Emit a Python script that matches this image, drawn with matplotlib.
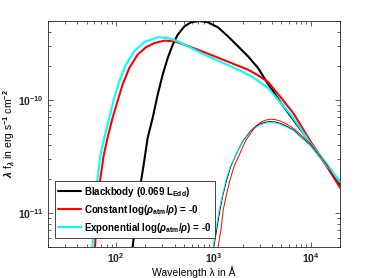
import matplotlib
matplotlib.use("Agg")
import matplotlib.pyplot as plt
from matplotlib.ticker import LogLocator, NullFormatter

plt.rcParams['font.family'] = ['Liberation Sans', 'DejaVu Sans']
plt.rcParams['font.weight'] = 'bold'
plt.rcParams['mathtext.fontset'] = 'custom'
plt.rcParams['mathtext.rm'] = 'Liberation Sans:bold'
plt.rcParams['mathtext.bf'] = 'Liberation Sans:bold'
plt.rcParams['mathtext.it'] = 'Liberation Sans:italic'

# ---- data ----
bb_wave = [142.8, 148.0, 160.8, 174.7, 192.1, 211.2, 237.8, 267.8, 301.5, 339.6, 382.3,
           430.5, 504.9, 590.4, 720.7, 877.7, 1113, 1411, 1789, 2269, 2876, 3502,
           4850, 6147, 7795, 9881, 14110, 20140]
bb_flux = [3.68e-12, 5.00e-12, 9.03e-12, 1.60e-11, 2.66e-11, 4.61e-11, 6.93e-11,
           1.114e-10, 1.674e-10, 2.353e-10, 3.085e-10, 3.785e-10, 4.49e-10, 4.87e-10,
           5.00e-10, 4.87e-10, 4.40e-10, 3.66e-10, 2.99e-10, 2.435e-10, 1.919e-10,
           1.464e-10, 9.66e-11, 7.29e-11, 5.54e-11, 4.25e-11, 2.77e-11, 1.77e-11]

const_wave = [59.6, 60.75, 66.5, 74.3, 81.7, 92.0, 103.6, 116.7, 136.8, 166.5, 202.9,
              247.6, 314.0, 398.1, 504.9, 692, 1029, 1526, 2269, 2876, 3646, 4850,
              6647, 9881, 14110, 20140]
const_flux = [3.68e-12, 5.0e-12, 1.597e-11, 3.15e-11, 4.61e-11, 6.93e-11, 9.74e-11,
              1.366e-10, 1.919e-10, 2.518e-10, 2.926e-10, 3.19e-10, 3.35e-10, 3.31e-10,
              3.085e-10, 2.787e-10, 2.435e-10, 2.125e-10, 1.853e-10, 1.654e-10,
              1.443e-10, 1.070e-10, 7.62e-11, 4.34e-11, 2.715e-11, 1.664e-11]

exp_wave = [56.2, 57.2, 62.5, 68.7, 75.6, 85.1, 95.8, 107.9, 126.2, 154.0, 195.3, 267.8,
            339.6, 430.5, 545.9, 748.4, 1113, 1654, 2453, 3646, 4850, 6147, 7795, 9881,
            14110, 20140]
exp_flux = [3.68e-12, 5.0e-12, 1.597e-11, 3.15e-11, 4.61e-11, 6.93e-11, 1.041e-10,
            1.464e-10, 2.053e-10, 2.70e-10, 3.26e-10, 3.59e-10, 3.54e-10, 3.31e-10,
            2.99e-10, 2.606e-10, 2.227e-10, 1.919e-10, 1.621e-10, 1.277e-10, 9.54e-11,
            7.52e-11, 5.65e-11, 4.16e-11, 2.83e-11, 1.880e-11]

# second set of thin curves
bb2_wave = [953.7, 1012, 1087, 1167, 1253, 1368, 1515, 1735, 2014, 2378, 2678, 3016,
            3396, 3823, 4305, 4850, 5589, 6647, 7982, 9881, 11950, 14690, 20140]
bb2_flux = [3.68e-12, 5.03e-12, 7.37e-12, 1.063e-11, 1.443e-11, 1.959e-11, 2.606e-11,
            3.375e-11, 4.34e-11, 5.24e-11, 5.77e-11, 6.13e-11, 6.35e-11, 6.43e-11,
            6.39e-11, 6.22e-11, 5.89e-11, 5.43e-11, 4.71e-11, 4.00e-11, 3.23e-11,
            2.57e-11, 1.734e-11]

const2_wave = [1061, 1121, 1203, 1262, 1361, 1480, 1638, 1876, 2138, 2476, 2775, 3140,
               3477, 3823, 4305, 4850, 5589, 6647, 7982, 9881, 11950, 14690, 20140]
const2_flux = [3.68e-12, 5.03e-12, 7.37e-12, 1.063e-11, 1.443e-11, 1.959e-11, 2.606e-11,
               3.375e-11, 4.34e-11, 5.24e-11, 5.95e-11, 6.43e-11, 6.65e-11, 6.75e-11,
               6.71e-11, 6.52e-11, 6.16e-11, 5.62e-11, 4.88e-11, 4.14e-11, 3.36e-11,
               2.66e-11, 1.688e-11]

exp2_wave = [942.4, 995, 1069, 1148, 1238, 1346, 1497, 1735, 2014, 2378, 2678, 3016,
             3396, 3823, 4305, 4850, 5589, 6647, 7982, 9881, 11950, 14690, 20140]
exp2_flux = [3.68e-12, 5.03e-12, 7.37e-12, 1.063e-11, 1.443e-11, 1.959e-11, 2.606e-11,
             3.375e-11, 4.29e-11, 5.14e-11, 5.65e-11, 6.01e-11, 6.22e-11, 6.30e-11,
             6.26e-11, 6.10e-11, 5.77e-11, 5.35e-11, 4.64e-11, 3.94e-11, 3.23e-11,
             2.57e-11, 1.832e-11]

labels = [r'Blackbody (0.069 L$_{\mathbf{Edd}}$)',
          r'Constant log($\rho_{\mathbf{atm}}/\rho$) = -0',
          r'Exponential log($\rho_{\mathbf{atm}}/\rho$) = -0']
colors = ['black', 'red', 'cyan']
x_ticks = [1e2, 1e3, 1e4]
x_ticklabels = [r'10$^{2}$', r'10$^{3}$', r'10$^{4}$']
y_ticks = [1e-11, 1e-10]
y_ticklabels = [r'10$^{-11}$', r'10$^{-10}$']

fig = plt.figure(figsize=(3.75, 2.78), dpi=100)
ax = fig.add_axes([48/375, 1-247/278, 292/375, 226/278])

kw = dict(solid_joinstyle='round', solid_capstyle='round')
ax.plot(bb_wave, bb_flux, color=colors[0], lw=1.5, label=labels[0], **kw)
ax.plot(const_wave, const_flux, color=colors[1], lw=1.5, label=labels[1], **kw)
ax.plot(exp_wave, exp_flux, color=colors[2], lw=1.5, label=labels[2], **kw)
ax.plot(bb2_wave, bb2_flux, color=colors[0], lw=0.7, **kw)
ax.plot(exp2_wave, exp2_flux, color=colors[2], lw=0.7, **kw)
ax.plot(const2_wave, const2_flux, color=colors[1], lw=0.7, **kw)

ax.set_xscale('log')
ax.set_yscale('log')
ax.set_xlim(20, 2e4)
ax.set_ylim(5e-12, 5e-10)

ax.set_xticks(x_ticks)
ax.set_xticklabels(x_ticklabels)
ax.set_yticks(y_ticks)
ax.set_yticklabels(y_ticklabels)
ax.xaxis.set_minor_locator(LogLocator(base=10, subs=range(2, 10), numticks=20))
ax.yaxis.set_minor_locator(LogLocator(base=10, subs=range(2, 10), numticks=20))
ax.xaxis.set_minor_formatter(NullFormatter())
ax.yaxis.set_minor_formatter(NullFormatter())

ax.tick_params(which='both', direction='in', top=True, right=True,
               colors='#262626', width=0.5, labelsize=7.5, pad=3)
ax.tick_params(which='major', length=3.5)
ax.tick_params(which='minor', length=2)
for s in ax.spines.values():
    s.set_color('#262626')
    s.set_linewidth(0.6)

ax.set_xlabel('Wavelength \u03bb in \u00c5', fontsize=7.5, labelpad=0.5)
ax.set_ylabel(r'$\lambda$ f$_{\lambda}$ in erg s$^{\mathbf{-1}}$ cm$^{\mathbf{-2}}$',
              fontsize=7.5, labelpad=1)

leg = ax.legend(loc='lower left', bbox_to_anchor=(0.024, 0.04), borderaxespad=0,
                fontsize=7.0, frameon=True, fancybox=False, framealpha=1,
                handlelength=2.3, handletextpad=0.35, labelspacing=0.4,
                borderpad=0.35)
leg.get_frame().set_edgecolor('#262626')
leg.get_frame().set_linewidth(0.6)

fig.savefig('out.png', dpi=100)
